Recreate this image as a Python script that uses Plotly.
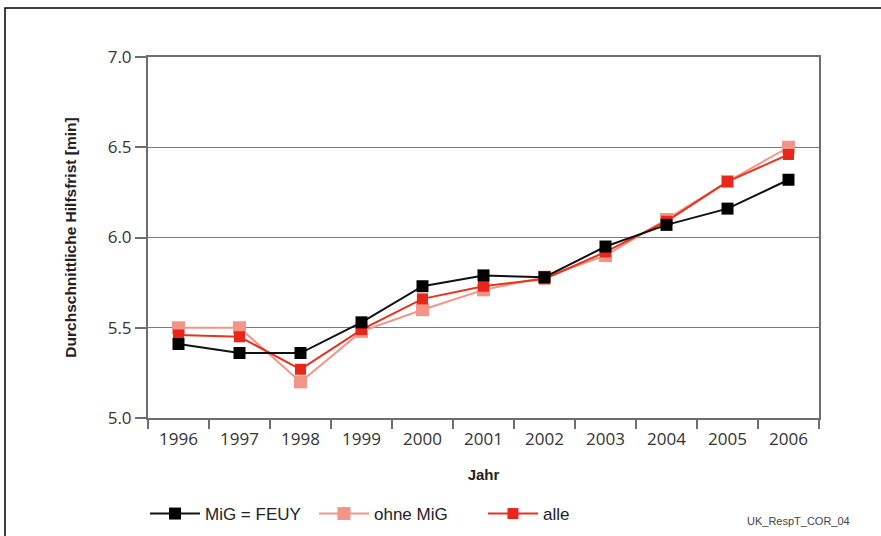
import plotly.graph_objects as go

years = ["1996", "1997", "1998", "1999", "2000", "2001", "2002", "2003", "2004", "2005", "2006"]
mig_feuy = [5.41, 5.36, 5.36, 5.53, 5.73, 5.79, 5.78, 5.95, 6.07, 6.16, 6.32]
ohne_mig = [5.50, 5.50, 5.20, 5.48, 5.60, 5.71, 5.78, 5.90, 6.10, 6.31, 6.50]
alle = [5.46, 5.45, 5.27, 5.49, 5.66, 5.73, 5.77, 5.92, 6.09, 6.31, 6.46]
y_ticks = [5.0, 5.5, 6.0, 6.5, 7.0]

fig = go.Figure()
fig.add_trace(go.Scatter(x=years, y=ohne_mig, name="ohne MiG", mode="lines+markers",
                         line=dict(color="#f39488", width=2),
                         marker=dict(symbol="square", size=13, color="#f39488"),
                         legendrank=2))
fig.add_trace(go.Scatter(x=years, y=alle, name="alle", mode="lines+markers",
                         line=dict(color="#e8321e", width=2),
                         marker=dict(symbol="square", size=11, color="#e8261a"),
                         legendrank=3))
fig.add_trace(go.Scatter(x=years, y=mig_feuy, name="MiG = FEUY", mode="lines+markers",
                         line=dict(color="#111111", width=2),
                         marker=dict(symbol="square", size=12, color="#000000"),
                         legendrank=1))

axis_col = "#6e6e6e"
fig.update_layout(
    width=881, height=536,
    margin=dict(l=148, r=62, t=57, b=118, autoexpand=False),
    paper_bgcolor="white", plot_bgcolor="white",
    showlegend=True,
    legend=dict(orientation="h", x=-0.0045, y=-(514 - 418) / 361, xanchor="left", yanchor="middle",
                entrywidth=104, entrywidthmode="pixels", itemwidth=50,
                font=dict(family="Liberation Sans, Arial", size=17, color="#222222"),
                traceorder="normal"),
    xaxis=dict(type="category", range=[-0.5, 10.5], showline=True, linecolor=axis_col, linewidth=2,
               mirror=True, ticks="outside", ticklen=9, tickcolor=axis_col, tickwidth=1.5,
               tickson="boundaries", showgrid=False, automargin=False, ticklabelstandoff=5,
               tickfont=dict(family="Open Sans", size=17, color="#333333"),
               title=dict(text="<b>Jahr</b>", standoff=20,
                          font=dict(family="Liberation Sans, Arial", size=15, color="#222222"))),
    yaxis=dict(range=[5.0, 7.0], tickvals=y_ticks, ticktext=[f"{v:.1f}" for v in y_ticks],
               showline=True, linecolor=axis_col, linewidth=2, mirror=True,
               ticks="outside", ticklen=11, tickcolor=axis_col, tickwidth=1.5,
               showgrid=True, gridcolor="#7a7a7a", gridwidth=1, zeroline=False, automargin=False,
               tickfont=dict(family="Open Sans", size=17, color="#333333"),
               title=dict(text="<b>Durchschnittliche Hilfsfrist [min]</b>", standoff=27,
                          font=dict(family="Liberation Sans, Arial", size=15.5, color="#222222"))),
    shapes=[dict(type="rect", xref="paper", yref="paper",
                 x0=(5 - 148) / 671, x1=1.2, y0=-0.6, y1=1 + (57 - 8) / 361,
                 line=dict(color="black", width=1.5), fillcolor="rgba(0,0,0,0)", layer="below")],
    annotations=[dict(text="UK_RespT_COR_04", xref="paper", yref="paper",
                      x=(798 - 148) / 671, y=-(521 - 418) / 361, xanchor="center", yanchor="middle",
                      showarrow=False, font=dict(family="Liberation Sans, Arial", size=11, color="#444444"))],
)

fig.write_html("out.html", config={"displayModeBar": False},
               post_script="document.body.style.margin='0px';")
